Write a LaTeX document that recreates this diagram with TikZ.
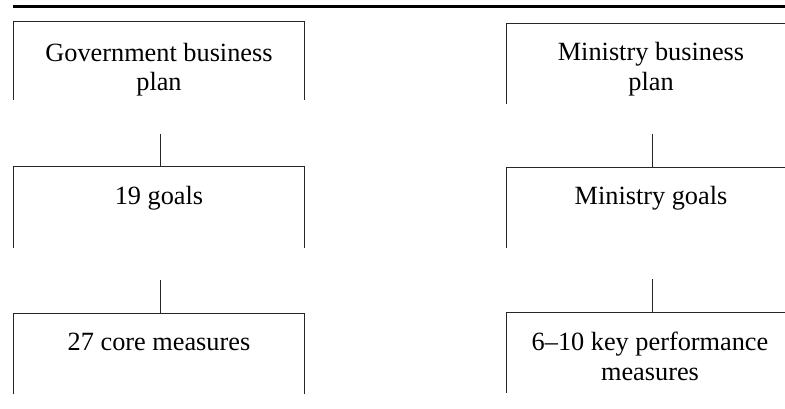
\documentclass[tikz,border=0pt]{standalone}
\usepackage{fontspec}
\setmainfont{Liberation Serif}
\begin{document}
\begin{tikzpicture}[x=1pt,y=-1pt,
  boxframe/.style={draw=none,minimum width=291pt,inner sep=0pt,outer sep=0pt},
  boxtext/.style={font=\fontsize{26.3}{29.5}\selectfont,align=center,anchor=base,inner sep=0pt},
  edge/.style={line width=1pt,black!85},
  rule/.style={line width=2.7pt}]
\useasboundingbox (0,0) rectangle (785,408);
% top rule
\coordinate (r0) at (12.7,6.7);
\coordinate (r1) at (785,6.7);
\draw[rule] (r0) -- (r1);
% left column frames
\node[boxframe,minimum height=79pt] (L1) at (159,60.5) {};
\node[boxframe,minimum height=82pt] (L2) at (159,207) {};
\node[boxframe,minimum height=81pt] (L3) at (159,353.5) {};
% right column frames
\node[boxframe,minimum height=81pt,minimum width=293pt] (R1) at (652.5,63.5) {};
\node[boxframe,minimum height=81pt,minimum width=293pt] (R2) at (652.5,207.5) {};
\node[boxframe,minimum height=81pt,minimum width=293pt] (R3) at (652.5,352.5) {};
\foreach \b in {L1,L2,L3,R1,R2,R3}{
  \draw[edge] (\b.south west) -- (\b.north west) -- (\b.north east) -- (\b.south east);
}
% texts (base anchor = baseline of last line)
\node[boxtext] (tL1) at (159,90.5) {Government business\\plan};
\node[boxtext] (tL2) at (159,204) {19 goals};
\node[boxtext] (tL3) at (159,350) {27 core measures};
\node[boxtext] (tR1) at (651,90) {Ministry business\\plan};
\node[boxtext] (tR2) at (651,204) {Ministry goals};
\node[boxtext] (tR3) at (650,380) {6–10 key performance\\measures};
% connectors
\coordinate (cL1) at (160,134);
\coordinate (cL2) at (160,280);
\coordinate (cR1) at (652,134);
\coordinate (cR2) at (652,279);
\draw[edge] (cL1) -- (cL1 |- L2.north);
\draw[edge] (cL2) -- (cL2 |- L3.north);
\draw[edge] (cR1) -- (cR1 |- R2.north);
\draw[edge] (cR2) -- (cR2 |- R3.north);
\end{tikzpicture}
\end{document}
